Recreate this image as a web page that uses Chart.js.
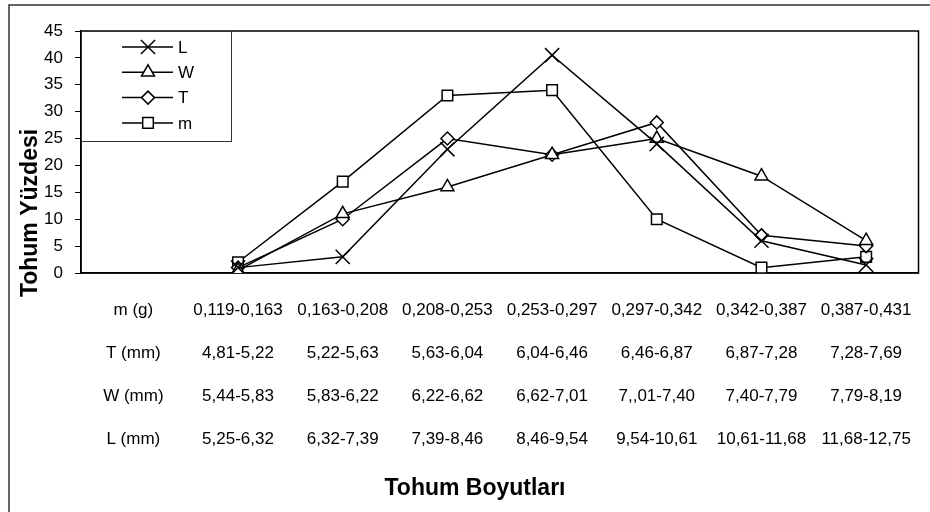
<!DOCTYPE html>
<html>
<head>
<meta charset="utf-8">
<title>Tohum Boyutları</title>
<script src="https://cdn.jsdelivr.net/npm/chart.js@4.4.0/dist/chart.umd.min.js"></script>
<style>
  body { margin: 0; background: #fff; }
  #wrap { width: 930px; height: 512px; position: relative; }
</style>
</head>
<body>
<div id="wrap"><canvas id="seedChart"></canvas></div>
<script>
// table under the chart: row names + class ranges per measure
const rowNames = ['m (g)', 'T (mm)', 'W (mm)', 'L (mm)'];
const mRanges = ['0,119-0,163', '0,163-0,208', '0,208-0,253', '0,253-0,297', '0,297-0,342', '0,342-0,387', '0,387-0,431'];
const tRanges = ['4,81-5,22', '5,22-5,63', '5,63-6,04', '6,04-6,46', '6,46-6,87', '6,87-7,28', '7,28-7,69'];
const wRanges = ['5,44-5,83', '5,83-6,22', '6,22-6,62', '6,62-7,01', '7,,01-7,40', '7,40-7,79', '7,79-8,19'];
const lRanges = ['5,25-6,32', '6,32-7,39', '7,39-8,46', '8,46-9,54', '9,54-10,61', '10,61-11,68', '11,68-12,75'];

// percentages (first column is the row-name column, so no value there)
const valuesL = [null, 1, 3, 23, 40.5, 24, 6, 1.5];
const valuesW = [null, 0.5, 11, 16, 22, 25, 18, 6];
const valuesT = [null, 1, 10, 25, 22, 28, 7, 5];
const valuesM = [null, 2, 17, 33, 34, 10, 1, 3];

const yTitle = 'Tohum Yüzdesi';
const xTitle = 'Tohum Boyutları';
const fontName = '"Liberation Sans", Arial, sans-serif';

const labels = [rowNames];
for (let i = 0; i < mRanges.length; i++) {
    labels.push([mRanges[i], tRanges[i], wRanges[i], lRanges[i]]);
}

function makeSet(name, values, style, radius) {
    return {
        label: name,
        data: values,
        borderColor: '#000',
        borderWidth: 1.5,
        pointStyle: style,
        pointRadius: radius,
        pointBackgroundColor: '#fff',
        pointBorderColor: '#000',
        pointBorderWidth: 1.5,
        tension: 0,
        fill: false
    };
}

// white background, outer frame, plot box and the two titles
const frame = {
    id: 'frame',
    beforeDraw(chart) {
        const ctx = chart.ctx;
        ctx.save();
        ctx.fillStyle = '#fff';
        ctx.fillRect(0, 0, chart.width, chart.height);
        ctx.strokeStyle = '#333';
        ctx.lineWidth = 1.5;
        ctx.strokeRect(9, 5, chart.width + 20, chart.height + 20);
        ctx.restore();
    },
    beforeDatasetsDraw(chart) {
        const a = chart.chartArea;
        const ctx = chart.ctx;
        ctx.save();
        ctx.strokeStyle = '#000';
        ctx.lineWidth = 1.5;
        ctx.strokeRect(a.left, a.top, a.right - a.left, a.bottom - a.top);
        ctx.restore();
    },
    afterDraw(chart) {
        // titles are centred on the whole chart object, not the plot
        const ctx = chart.ctx;
        ctx.save();
        ctx.font = 'bold 23px ' + fontName;
        ctx.fillStyle = '#000';
        ctx.textAlign = 'center';
        ctx.textBaseline = 'middle';
        ctx.fillText(xTitle, 475, 489);
        ctx.translate(31, 213);
        ctx.rotate(-Math.PI / 2);
        ctx.fillText(yTitle, 0, 0);
        ctx.restore();
    }
};

// excel style legend box in the top left corner of the plot
const boxLegend = {
    id: 'boxLegend',
    afterDatasetsDraw(chart) {
        const ctx = chart.ctx;
        const a = chart.chartArea;
        ctx.save();
        ctx.fillStyle = '#fff';
        ctx.fillRect(a.left, a.top, 150, 110);
        ctx.strokeStyle = '#333';
        ctx.lineWidth = 1;
        ctx.strokeRect(a.left + 0.5, a.top + 0.5, 150, 110);
        chart.data.datasets.forEach((ds, i) => {
            const y = a.top + 16 + i * 25.3;
            ctx.strokeStyle = '#000';
            ctx.lineWidth = 1.5;
            ctx.beginPath();
            ctx.moveTo(a.left + 41, y);
            ctx.lineTo(a.left + 92, y);
            ctx.stroke();
            ctx.fillStyle = '#fff';
            Chart.helpers.drawPoint(ctx, {
                pointStyle: ds.pointStyle,
                rotation: 0,
                radius: ds.pointRadius,
                borderWidth: 1.5
            }, a.left + 67, y);
            ctx.fillStyle = '#000';
            ctx.font = '17px ' + fontName;
            ctx.textAlign = 'left';
            ctx.textBaseline = 'middle';
            ctx.fillText(ds.label, a.left + 97, y + 1);
        });
        ctx.restore();
    }
};

new Chart(document.getElementById('seedChart'), {
    type: 'line',
    data: {
        labels: labels,
        datasets: [
            makeSet('L', valuesL, 'crossRot', 10),
            makeSet('W', valuesW, 'triangle', 7.5),
            makeSet('T', valuesT, 'rectRot', 6.5),
            makeSet('m', valuesM, 'rect', 7.5)
        ]
    },
    options: {
        responsive: true,
        maintainAspectRatio: false,
        animation: false,
        layout: { padding: { top: 31, right: 2, left: 0, bottom: 0 } },
        plugins: {
            legend: { display: false },
            tooltip: { enabled: false }
        },
        scales: {
            x: {
                offset: true,
                grid: { display: false },
                border: { display: true, color: '#000', width: 1.5 },
                ticks: {
                    color: '#000',
                    autoSkip: false,
                    maxRotation: 0,
                    minRotation: 0,
                    padding: 8,
                    font: { family: fontName, size: 17, lineHeight: 2.53 }
                },
                afterFit(scale) { scale.height = 239; }
            },
            y: {
                min: 0,
                max: 45,
                ticks: {
                    stepSize: 5,
                    color: '#000',
                    padding: 12,
                    font: { family: fontName, size: 17 }
                },
                grid: {
                    display: true,
                    drawOnChartArea: false,
                    drawTicks: true,
                    tickLength: 6,
                    color: '#000'
                },
                border: { display: true, color: '#000', width: 1.5 },
                afterFit(scale) { scale.width = 81; }
            }
        }
    },
    plugins: [frame, boxLegend]
});
</script>
</body>
</html>
